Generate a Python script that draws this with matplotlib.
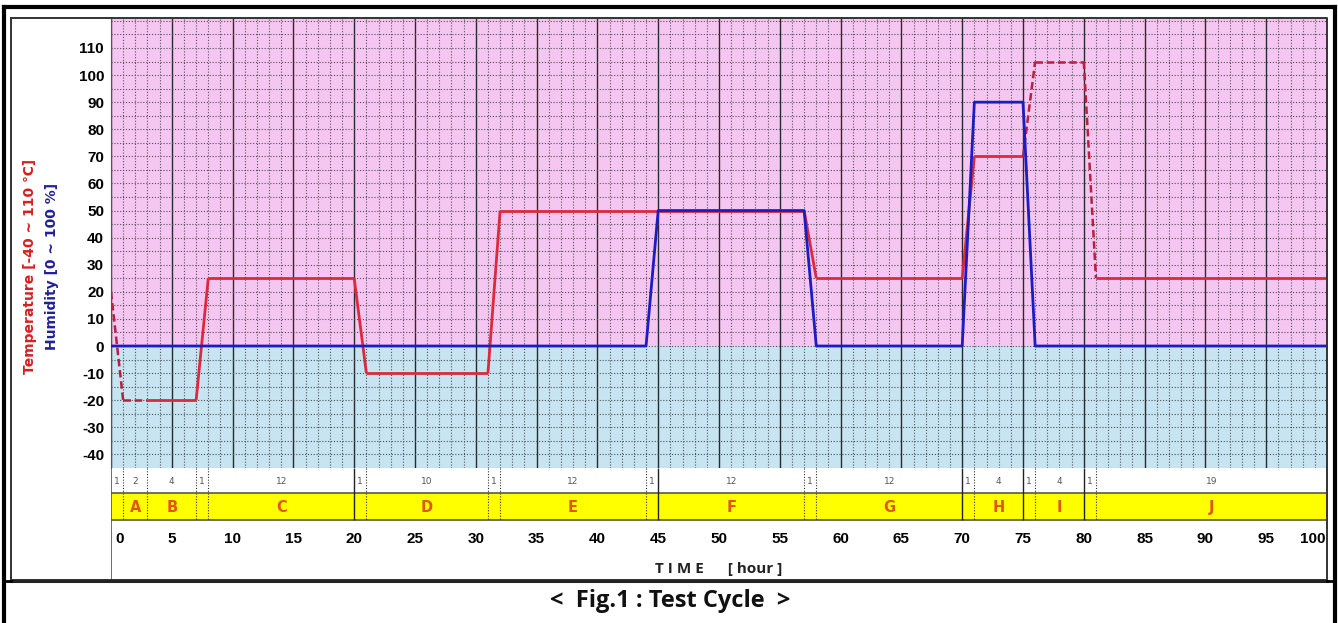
import numpy as np
import matplotlib.pyplot as plt

W, H = 1338, 623

# temperature program [deg C] vs time [hour]
temp_t = [0, 1, 3, 7, 8, 20, 21, 31, 32, 57, 58, 70, 71, 75, 76, 80, 81, 100]
temp_v = [20, -20, -20, -20, 25, 25, -10, -10, 50, 50, 25, 25, 70, 70, 105, 105, 25, 25]
temp_dashed = [(0, 3), (75, 81)]   # time spans drawn dashed

# humidity program [%]
hum_t = [0, 44, 45, 57, 58, 70, 71, 75, 76, 100]
hum_v = [0, 0, 50, 50, 0, 0, 90, 90, 0, 0]

# steps of the cycle
step_hours = [1, 2, 4, 1, 12, 1, 10, 1, 12, 1, 12, 1, 12, 1, 4, 1, 4, 1, 19]
step_names = ['', 'A', 'B', '', 'C', '', 'D', '', 'E', '', 'F', '', 'G', '', 'H', '', 'I', '', 'J']

y_ticks = list(range(-40, 111, 10))
x_ticks = list(range(0, 101, 5))

PINK = '#F6C6F3'
BLUE = '#C6E4F1'
RED = '#DC2A3C'
DRED = '#B8203E'
HBLUE = '#1C1CC4'
NARROW = ['Liberation Sans Narrow', 'Liberation Sans', 'DejaVu Sans']

fig = plt.figure(figsize=(W / 100, H / 100), dpi=100)

# ---- main chart ----
ax = fig.add_axes([111 / W, 1 - 468 / H, 1216 / W, 450 / H])
ymin, ymax = -45.03, 121.07
ax.set_xlim(0, 100)
ax.set_ylim(ymin, ymax)
ax.axhspan(0, ymax, color=PINK, lw=0, zorder=0)
ax.axhspan(ymin, 0, color=BLUE, lw=0, zorder=0)

for t in range(0, 101):
    if t % 5 == 0:
        ax.axvline(t, color='#2a2a2a', lw=1.0, zorder=1)
    else:
        ax.axvline(t, color='#555555', lw=0.8, ls=(0, (1, 1.6)), zorder=1)
for y in range(-45, 121, 5):
    ax.axhline(y, color='#505050', lw=0.8, ls=(0, (1, 1.6)), zorder=1)

# temperature: solid and dashed pieces
t_arr = np.array(temp_t, dtype=float)
v_arr = np.array(temp_v, dtype=float)
for i in range(len(t_arr) - 1):
    seg_t = t_arr[i:i + 2]
    seg_v = v_arr[i:i + 2]
    dashed = any(a <= seg_t[0] and seg_t[1] <= b for a, b in temp_dashed)
    if dashed:
        ax.plot(seg_t, seg_v, color=DRED, lw=1.8, ls=(0, (3, 1.5)), zorder=3,
                solid_capstyle='butt')
    else:
        ax.plot(seg_t, seg_v, color=RED, lw=2.0, zorder=3, solid_capstyle='butt')

ax.plot(hum_t, hum_v, color=HBLUE, lw=2.0, zorder=4)

ax.set_xticks([])
ax.set_yticks(y_ticks)
ax.set_yticklabels([str(v) for v in y_ticks], fontsize=11, fontweight='bold',
                   family=NARROW)
ax.tick_params(axis='y', length=0, pad=5)
for s in ax.spines.values():
    s.set_visible(False)
ax.spines['left'].set_visible(True)
ax.spines['left'].set_color('#555555')

# ---- step table below ----
axb = fig.add_axes([111 / W, 1 - 580 / H, 1216 / W, 112 / H])
axb.set_xlim(0, 100)
axb.set_ylim(580, 468)
axb.axis('off')
axb.axhspan(493, 520, color='#FFFF00', lw=0, zorder=0)
axb.hlines([493, 520], 0, 100, color='#5a5a40', lw=1.2, zorder=2)

bounds = np.concatenate([[0], np.cumsum(step_hours)])
for b in bounds[1:-1]:
    if b % 5 == 0:
        axb.vlines(b, 468, 520, color='#222222', lw=1.0, zorder=2)
    else:
        axb.vlines(b, 468, 520, color='#333333', lw=0.8, ls=(0, (1, 1.5)), zorder=2)
axb.vlines(0, 468, 580, color='#555555', lw=1.2, zorder=2)

for i, (h, name) in enumerate(zip(step_hours, step_names)):
    mid = (bounds[i] + bounds[i + 1]) / 2
    axb.text(mid, 481, str(h), ha='center', va='center', fontsize=6.5,
             color='#555555')
    if name:
        axb.text(mid, 507, name, ha='center', va='center', fontsize=10.5,
                 fontweight='semibold', color='#E0580E')

for t in x_ticks:
    ha = 'center'
    x = t
    if t == 0:
        ha, x = 'left', 0.35
    elif t == 100:
        ha, x = 'right', 99.85
    axb.text(x, 539, str(t), ha=ha, va='center', fontsize=11,
             fontweight='bold', family=NARROW)

axb.text(50, 569, 'T I M E      [ hour ]', ha='center', va='center',
         fontsize=11, fontweight='bold', color='#222222',
         family=['Open Sans', 'DejaVu Sans'])

# ---- frame, axis titles and caption ----
axf = fig.add_axes([0, 0, 1, 1], zorder=10)
axf.set_xlim(0, W)
axf.set_ylim(H, 0)
axf.axis('off')

axf.plot([11, 1327, 1327, 11, 11], [18, 18, 580, 580, 18], color='#333333', lw=1.4)
axf.plot([11, 1327], [580.5, 580.5], color='#222222', lw=2.2)
axf.plot([4, 4], [7, H], color='black', lw=3)
axf.plot([1335, 1335], [7, H], color='black', lw=3)
axf.plot([4, 1335], [7, 7], color='black', lw=3)
axf.plot([4, 11], [581, 581], color='black', lw=2)
axf.plot([1327, 1335], [581, 581], color='black', lw=2)

axf.text(30, 266, 'Temperature [-40 ~ 110 \u2103]', rotation=90, ha='center',
         va='center', fontsize=10, fontweight='bold', color='#D42020')
axf.text(52, 266, 'Humidity [0 ~ 100 %]', rotation=90, ha='center',
         va='center', fontsize=10, fontweight='bold', color='#20209A')

axf.text(670, 601, '<  Fig.1 : Test Cycle  >', ha='center', va='center',
         fontsize=17, fontweight='bold', color='#111111',
         family=['Open Sans', 'DejaVu Sans'])

fig.savefig('out.png', dpi=100)
